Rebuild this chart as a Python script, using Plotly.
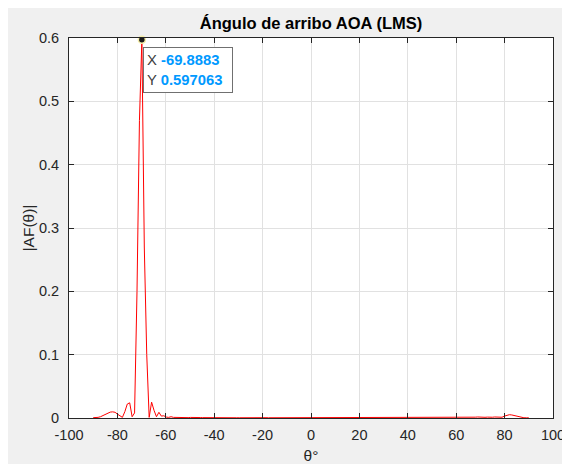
import numpy as np
import plotly.graph_objects as go

# Sampling grid of the scan angle (180 samples from -90 to 90 degrees)
theta = np.linspace(-90, 90, 180)

# |AF(theta)| values (k = 0 .. 179)
af = [
    # k 0-9   (-90 .. -80.9)
    0.0005, 0.0005, 0.0010, 0.0020, 0.0040, 0.0060, 0.0080, 0.0093, 0.0097, 0.0090,
    # k 10-19 (-79.9 .. -70.9)
    0.0060, 0.0030, 0.0010, 0.0100, 0.0220, 0.0240, 0.0020, 0.0080, 0.2000, 0.4700,
    # k 20-29 (-69.9 .. -60.8)
    0.597063, 0.2700, 0.1000, 0.0010, 0.0250, 0.0120, 0.0020, 0.0090, 0.0030, 0.0035,
    # k 30-39
    0.0015, 0.0010, 0.0020, 0.0010, 0.0008, 0.0012, 0.0006, 0.0010, 0.0008, 0.0006,
    # k 40-49
    0.0009, 0.0006, 0.0008, 0.0005, 0.0007, 0.0006, 0.0005, 0.0007, 0.0005, 0.0006,
    # k 50-59
    0.0005, 0.0006, 0.0004, 0.0006, 0.0005, 0.0004, 0.0005, 0.0004, 0.0005, 0.0004,
    # k 60-69
    0.0004, 0.0005, 0.0004, 0.0004, 0.0005, 0.0004, 0.0004, 0.0005, 0.0004, 0.0004,
    # k 70-79
    0.0004, 0.0005, 0.0004, 0.0004, 0.0004, 0.0005, 0.0004, 0.0004, 0.0004, 0.0005,
    # k 80-89
    0.0004, 0.0004, 0.0004, 0.0005, 0.0004, 0.0004, 0.0004, 0.0005, 0.0004, 0.0004,
    # k 90-99
    0.0004, 0.0005, 0.0004, 0.0004, 0.0004, 0.0005, 0.0004, 0.0004, 0.0004, 0.0005,
    # k 100-109
    0.0004, 0.0004, 0.0005, 0.0004, 0.0004, 0.0005, 0.0004, 0.0004, 0.0005, 0.0004,
    # k 110-119
    0.0004, 0.0005, 0.0004, 0.0005, 0.0004, 0.0004, 0.0005, 0.0004, 0.0005, 0.0004,
    # k 120-129
    0.0005, 0.0004, 0.0005, 0.0004, 0.0005, 0.0005, 0.0004, 0.0005, 0.0004, 0.0005,
    # k 130-139
    0.0005, 0.0004, 0.0006, 0.0005, 0.0004, 0.0006, 0.0005, 0.0004, 0.0006, 0.0005,
    # k 140-149
    0.0006, 0.0004, 0.0007, 0.0005, 0.0006, 0.0008, 0.0005, 0.0007, 0.0009, 0.0006,
    # k 150-159
    0.0008, 0.0010, 0.0006, 0.0009, 0.0011, 0.0007, 0.0010, 0.0013, 0.0016, 0.0012,
    # k 160-169
    0.0008, 0.0011, 0.0014, 0.0010, 0.0012, 0.0016, 0.0014, 0.0008, 0.0012, 0.0030,
    # k 170-179
    0.0045, 0.0052, 0.0048, 0.0038, 0.0024, 0.0012, 0.0006, 0.0004, 0.0003, 0.0003,
]

x_ticks = [-100, -80, -60, -40, -20, 0, 20, 40, 60, 80, 100]
x_tick_labels = ["-100", "-80", "-60", "-40", "-20", "0", "20", "40", "60", "80", "100"]
y_ticks = [0, 0.1, 0.2, 0.3, 0.4, 0.5, 0.6]
y_tick_labels = ["0", "0.1", "0.2", "0.3", "0.4", "0.5", "0.6"]

peak_idx = int(np.argmax(af))
peak_x = float(theta[peak_idx])
peak_y = af[peak_idx]

FONT = "Liberation Sans, Arial, Helvetica, sans-serif"
AXC = "#262626"

# figure is placed by the page at an 8px offset; sizes account for that
W, H = 562, 456

fig = go.Figure()
fig.add_trace(go.Scatter(
    x=theta, y=af, mode="lines",
    line=dict(color="#ff0000", width=1),
    hoverinfo="skip", showlegend=False,
))
fig.add_trace(go.Scatter(
    x=[peak_x], y=[peak_y], mode="markers",
    marker=dict(color="#1a1a1a", size=7, line=dict(color="#f5eeaa", width=1.5)),
    cliponaxis=False, hoverinfo="skip", showlegend=False,
))

fig.add_annotation(
    x=-69.42, y=0.5858, xref="x", yref="y",
    xanchor="left", yanchor="top", showarrow=False, align="left",
    width=82, height=38,
    text=(f"<span style='color:#404040'>X </span><b>{peak_x:.4f}</b><br>"
          f"<span style='color:#404040'>Y </span><b>{peak_y:.6f}</b>"),
    font=dict(family=FONT, size=14.8, color="#0099ff"),
    bgcolor="#ffffff", bordercolor="#707070", borderwidth=1, borderpad=3,
)

axis_common = dict(
    showline=True, linecolor=AXC, linewidth=1, mirror="ticks",
    ticks="inside", ticklen=5, tickcolor=AXC, tickwidth=1,
    showgrid=True, gridcolor="#e1e1e1", gridwidth=1, zeroline=False,
    tickfont=dict(family=FONT, size=14.5, color=AXC),
    automargin=False,
)

fig.update_layout(
    width=W, height=H,
    margin=dict(l=61, r=17, t=30, b=46),
    paper_bgcolor="#f0f0f0", plot_bgcolor="#ffffff",
    title=dict(text="<b>Ángulo de arribo AOA (LMS)</b>",
               x=303 / W, xanchor="center",
               y=1 - 15 / H, yanchor="middle", yref="container",
               font=dict(family=FONT, size=16.5, color="#000000")),
    xaxis=dict(range=[-100, 100], tickvals=x_ticks, ticktext=x_tick_labels,
               ticklabelstandoff=4,
               title=dict(text="θ°", font=dict(family=FONT, size=15.5, color=AXC), standoff=7),
               **axis_common),
    yaxis=dict(range=[0, 0.6], tickvals=y_ticks, ticktext=y_tick_labels,
               ticklabelstandoff=6,
               title=dict(text="|AF(θ)|", font=dict(family=FONT, size=15.5, color=AXC), standoff=0),
               **axis_common),
    showlegend=False,
)

fig.write_html("out.html")
